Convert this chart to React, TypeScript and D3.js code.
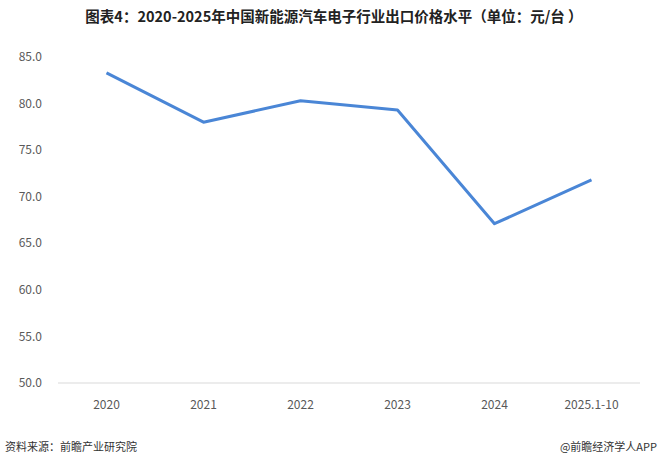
import React from 'react';
import * as d3 from 'd3';

// chart data
const years = ['2020', '2021', '2022', '2023', '2024', '2025.1-10'];
const prices = [83.3, 78.0, 80.3, 79.3, 67.1, 71.8];
const yTicks = [50, 55, 60, 65, 70, 75, 80, 85];

const width = 660;
const height = 466;
const marginLeft = 58;
const marginRight = 20;
const marginTop = 57;
const plotBottom = 383;

const font = '"Microsoft YaHei", "Noto Sans CJK SC", "Noto Sans", sans-serif';

const App = () => {
  const x = d3.scalePoint<string>()
    .domain(years)
    .range([marginLeft, width - marginRight])
    .padding(0.5);

  const y = d3.scaleLinear().domain([50, 85]).range([plotBottom, marginTop]);

  const line = d3.line<number>()
    .x((d, i) => x(years[i]) as number)
    .y(d => y(d));

  return (
    <svg width={width} height={height} style={{ position: 'absolute', left: 0, top: 0, background: '#fff' }}>
      <rect width={width} height={height} fill="#fff" />
      <text x={334} y={22} textAnchor="middle" fontFamily={font} fontSize={14.5} fontWeight="bold" fill="#222">
        图表4：2020-2025年中国新能源汽车电子行业出口价格水平（单位：元/台 ）
      </text>

      {/* y axis labels */}
      <g fontFamily={font} fontSize={12} fill="#595959">
        {yTicks.map(t => (
          <text key={t} x={42} y={y(t)} dy="0.35em" textAnchor="end">{t.toFixed(1)}</text>
        ))}
      </g>

      {/* baseline */}
      <line x1={marginLeft} x2={width - marginRight} y1={plotBottom} y2={plotBottom} stroke="#d9d9d9" strokeWidth={1} />

      {/* x labels */}
      <g fontFamily={font} fontSize={12} fill="#595959">
        {years.map(c => (
          <text key={c} x={x(c)} y={plotBottom + 22} dy="0.35em" textAnchor="middle">{c}</text>
        ))}
      </g>

      <path d={line(prices) || ''} fill="none" stroke="#4a86d6" strokeWidth={3} strokeLinejoin="round" />

      {/* footer */}
      <text x={5} y={451} fontFamily={font} fontSize={11} fill="#333">资料来源：前瞻产业研究院</text>
      <text x={657} y={451} textAnchor="end" fontFamily={font} fontSize={11} fill="#333">@前瞻经济学人APP</text>
    </svg>
  );
};

export default App;
